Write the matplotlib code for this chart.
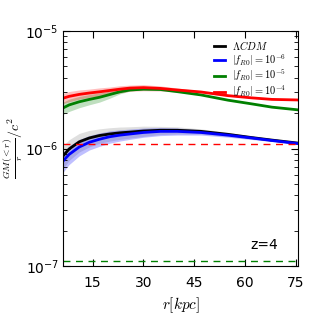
import numpy as np
import matplotlib
matplotlib.use("Agg")
import matplotlib.pyplot as plt
from matplotlib.ticker import FixedLocator, LogLocator, NullFormatter

plt.rcParams['mathtext.fontset'] = 'cm'

# radius [kpc]
r = [6, 8, 11, 14, 17, 20, 23, 26, 30, 35, 40, 47, 55, 62, 68, 76]

# GM(<r)/r/c^2 curves
lcdm = [8.5e-7, 9.9e-7, 1.14e-6, 1.23e-6, 1.29e-6, 1.33e-6, 1.36e-6, 1.38e-6,
        1.41e-6, 1.43e-6, 1.43e-6, 1.40e-6, 1.32e-6, 1.24e-6, 1.18e-6, 1.11e-6]
f6 = [7.7e-7, 8.9e-7, 1.03e-6, 1.13e-6, 1.20e-6, 1.26e-6, 1.30e-6, 1.33e-6,
      1.37e-6, 1.40e-6, 1.40e-6, 1.37e-6, 1.30e-6, 1.23e-6, 1.17e-6, 1.10e-6]
f5 = [2.20e-6, 2.35e-6, 2.50e-6, 2.62e-6, 2.73e-6, 2.88e-6, 3.04e-6, 3.15e-6,
      3.20e-6, 3.18e-6, 3.05e-6, 2.86e-6, 2.58e-6, 2.40e-6, 2.25e-6, 2.13e-6]
f4 = [2.67e-6, 2.78e-6, 2.89e-6, 2.97e-6, 3.04e-6, 3.12e-6, 3.20e-6, 3.27e-6,
      3.30e-6, 3.25e-6, 3.15e-6, 3.03e-6, 2.82e-6, 2.70e-6, 2.62e-6, 2.59e-6]

# fractional scatter of each band
sig_lcdm = [0.22, 0.20, 0.18, 0.16, 0.14, 0.13, 0.12, 0.11,
            0.10, 0.08, 0.07, 0.05, 0.04, 0.03, 0.02, 0.01]
sig_f6 = [0.20, 0.18, 0.16, 0.14, 0.13, 0.12, 0.11, 0.10,
          0.09, 0.08, 0.07, 0.05, 0.04, 0.03, 0.02, 0.02]
sig_f5 = [0.12, 0.12, 0.11, 0.10, 0.09, 0.07, 0.04, 0.02,
          0.01, 0.0, 0.0, 0.0, 0.0, 0.0, 0.0, 0.0]
sig_f4 = [0.10, 0.10, 0.09, 0.08, 0.08, 0.07, 0.07, 0.06,
          0.06, 0.05, 0.04, 0.02, 0.01, 0.0, 0.0, 0.0]

# screening thresholds (dashed)
thr_f5 = 1.1e-7
thr_f4 = 1.1e-6

x_ticks = [15, 30, 45, 60, 75]

fig = plt.figure(figsize=(3.14, 3.14), dpi=100)
ax = fig.add_axes([0.2006, 0.153, 0.7484, 0.748])

series = [
    (lcdm, sig_lcdm, 'k', 'gray', r'$\Lambda CDM$'),
    (f6, sig_f6, 'b', 'b', r'$|f_{R0}|=10^{-6}$'),
    (f5, sig_f5, 'g', 'g', r'$|f_{R0}|=10^{-5}$'),
    (f4, sig_f4, 'r', 'r', r'$|f_{R0}|=10^{-4}$'),
]
for y, s, c, bc, lab in series:
    y = np.array(y)
    s = np.array(s)
    ax.fill_between(r, y * (1 - s), y * (1 + s), color=bc, alpha=0.25, lw=0)
    ax.plot(r, y, color=c, lw=2, label=lab)

ax.axhline(thr_f4, color='r', ls='--', lw=1, dashes=(5, 4))
ax.axhline(thr_f5, color='g', ls='--', lw=1, dashes=(5, 4))

ax.set_yscale('log')
ax.set_ylim(1e-7, 1e-5)
ax.set_xlim(6.2, 75.7)
ax.xaxis.set_major_locator(FixedLocator(x_ticks))
ax.yaxis.set_major_locator(LogLocator(base=10, numticks=5))
ax.yaxis.set_minor_locator(LogLocator(base=10, subs=np.arange(2, 10), numticks=20))
ax.yaxis.set_minor_formatter(NullFormatter())
ax.tick_params(which='both', direction='in', top=True, right=True, labelsize=10)
ax.tick_params(which='major', length=5)
ax.tick_params(which='minor', length=3)
ax.tick_params(axis='x', pad=7)
ax.tick_params(axis='y', pad=3)

ax.set_xlabel(r'$r[kpc]$', fontsize=11)
ax.set_ylabel(r'$\frac{GM(<r)}{r}/c^2$', fontsize=10)
ax.yaxis.set_label_coords(-0.16, 0.5)

ax.text(0.915, 0.06, 'z=4', transform=ax.transAxes, ha='right', va='bottom', fontsize=10)

ax.legend(loc='upper right', frameon=False, fontsize=7.5, handlelength=1.1,
          handletextpad=0.7, labelspacing=0.02, borderaxespad=0.0,
          bbox_to_anchor=(0.97, 0.985))

fig.savefig('out.png', dpi=100)
